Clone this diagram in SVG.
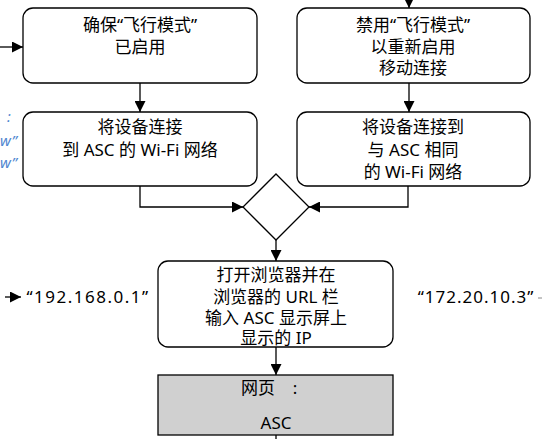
<svg xmlns="http://www.w3.org/2000/svg" width="542" height="439" viewBox="0 0 542 439">
<style>
  .box { fill: #ffffff; stroke: #000000; stroke-width: 1.3; }
  .gbox { fill: #d0d0d0; stroke: #000000; stroke-width: 1.3; }
  .t { font-family: "Noto Sans", "Noto Sans CJK SC", sans-serif; font-size: 17px; fill: #000000; text-anchor: middle; }
  .ip { letter-spacing: 1.5px; }
  .ip2 { letter-spacing: 1px; }
  .blue { font-family: "Noto Sans", "Noto Sans CJK SC", sans-serif; font-size: 15px; fill: #4f86d0; font-style: italic; }
  .c { fill: none; stroke: #000000; stroke-width: 1.3; }
</style>
<defs>
  <marker id="ah" viewBox="0 0 11 11" refX="11" refY="5.5" markerWidth="11" markerHeight="11" markerUnits="userSpaceOnUse" orient="auto">
    <path d="M0,0 L11,5.5 L0,11 Z" fill="#000000"/>
  </marker>
</defs>
<rect width="542" height="439" fill="#ffffff"/>

<g id="connectors">
  <line class="c" x1="0" y1="47" x2="23" y2="47" marker-end="url(#ah)"/>
  <line class="c" x1="409" y1="0" x2="409" y2="8" marker-end="url(#ah)"/>
  <line class="c" x1="140" y1="83" x2="140" y2="112" marker-end="url(#ah)"/>
  <line class="c" x1="409" y1="83" x2="409" y2="112" marker-end="url(#ah)"/>
  <polyline class="c" points="140,186 140,207 243,207" marker-end="url(#ah)"/>
  <polyline class="c" points="408,186 408,207 309,207" marker-end="url(#ah)"/>
  <line class="c" x1="276" y1="240" x2="276" y2="261" marker-end="url(#ah)"/>
  <line class="c" x1="276" y1="347" x2="276" y2="375" marker-end="url(#ah)"/>
  <line class="c" x1="276" y1="435" x2="276" y2="439"/>
  <line class="c" x1="5" y1="297" x2="21" y2="297" marker-end="url(#ah)"/>
  <line x1="538" y1="298" x2="542" y2="298" stroke="#888888" stroke-width="1"/>
</g>

<g id="note-left">
  <text class="blue" x="7" y="122">:</text>
  <text class="blue" x="0" y="146">w”</text>
  <text class="blue" x="0" y="168">w”</text>
</g>

<g id="ensure-airplane">
  <rect class="box" x="23" y="8" width="234" height="75" rx="10"/>
  <text class="t" x="140" y="31">确保“飞行模式”</text>
  <text class="t" x="140" y="53">已启用</text>
</g>

<g id="disable-airplane">
  <rect class="box" x="297" y="8" width="233" height="75" rx="10"/>
  <text class="t" x="413" y="31">禁用“飞行模式”</text>
  <text class="t" x="413" y="53">以重新启用</text>
  <text class="t" x="413" y="74">移动连接</text>
</g>

<g id="connect-asc-wifi">
  <rect class="box" x="23" y="112" width="234" height="74" rx="10"/>
  <text class="t" x="140" y="133">将设备连接</text>
  <text class="t" x="140" y="156">到 ASC 的 Wi-Fi 网络</text>
</g>

<g id="connect-same-wifi">
  <rect class="box" x="297" y="112" width="233" height="74" rx="10"/>
  <text class="t" x="413" y="133">将设备连接到</text>
  <text class="t" x="413" y="156">与 ASC 相同</text>
  <text class="t" x="413" y="178">的 Wi-Fi 网络</text>
</g>

<g id="merge">
  <polygon class="box" points="276,174 309,207 276,240 243,207"/>
</g>

<g id="open-browser">
  <rect class="box" x="158" y="261" width="235" height="86" rx="10"/>
  <text class="t" x="276" y="281">打开浏览器并在</text>
  <text class="t" x="276" y="303">浏览器的 URL 栏</text>
  <text class="t" x="276" y="324">输入 ASC 显示屏上</text>
  <text class="t" x="276" y="344">显示的 IP</text>
</g>

<g id="ip-left">
  <text class="t ip" x="88" y="303">“192.168.0.1”</text>
</g>

<g id="ip-right">
  <text class="t ip2" x="476" y="303">“172.20.10.3”</text>
</g>

<g id="webpage">
  <rect class="gbox" x="158" y="375" width="235" height="60"/>
  <text class="t" x="276" y="394"><tspan x="258">网页</tspan><tspan x="295">:</tspan></text>
  <text class="t" x="276" y="429">ASC</text>
</g>
</svg>
